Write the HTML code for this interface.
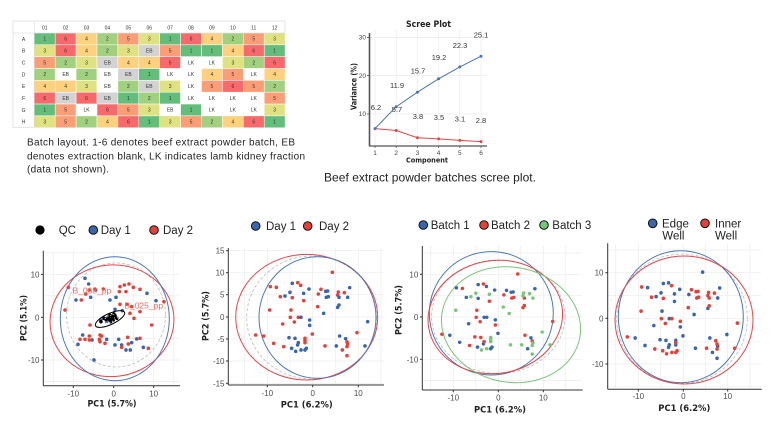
<!DOCTYPE html>
<html><head><meta charset="utf-8"><style>
html,body{margin:0;padding:0;background:#fff;}
svg{display:block;font-family:"Liberation Sans",Arial,sans-serif;}
.ct{font-size:5px;fill:#333;text-anchor:middle;}
.tk{font-size:8px;fill:#4d4d4d;}
.ttl{font-family:"DejaVu Sans","Liberation Sans",sans-serif;font-weight:bold;fill:#222;}
.lg{font-size:11.5px;fill:#222;}
.grid line{stroke:#ececec;stroke-width:0.7;}
.ax{stroke:#333;stroke-width:1;}
</style></head><body>
<svg width="780" height="421" viewBox="0 0 780 421" xmlns="http://www.w3.org/2000/svg">
<defs>
<circle id="p1" cx="412" cy="187" r="5.4"/><circle id="p2" cx="292" cy="220" r="5.4"/><circle id="p3" cx="308" cy="218" r="5.4"/><circle id="p4" cx="317" cy="226" r="5.4"/><circle id="p5" cx="226" cy="230" r="5.4"/><circle id="p6" cx="244" cy="232" r="5.4"/><circle id="p7" cx="464" cy="233" r="5.4"/><circle id="p8" cx="342" cy="237" r="5.4"/><circle id="p9" cx="378" cy="238" r="5.4"/><circle id="p10" cx="392" cy="244" r="5.4"/><circle id="p11" cx="398" cy="243" r="5.4"/><circle id="p12" cx="285" cy="247" r="5.4"/><circle id="p13" cx="326" cy="250" r="5.4"/><circle id="p14" cx="370" cy="252" r="5.4"/><circle id="p15" cx="430" cy="246" r="5.4"/><circle id="p16" cx="428" cy="255" r="5.4"/><circle id="p17" cx="448" cy="248" r="5.4"/><circle id="p18" cx="270" cy="258" r="5.4"/><circle id="p19" cx="256" cy="260" r="5.4"/><circle id="p20" cx="292" cy="263" r="5.4"/><circle id="p21" cx="394" cy="262" r="5.4"/><circle id="p22" cx="400" cy="260" r="5.4"/><circle id="p23" cx="432" cy="262" r="5.4"/><circle id="p24" cx="458" cy="262" r="5.4"/><circle id="p25" cx="326" cy="272" r="5.4"/><circle id="p26" cx="432" cy="285" r="5.4"/><circle id="p27" cx="428" cy="292" r="5.4"/><circle id="p28" cx="368" cy="290" r="5.4"/><circle id="p29" cx="224" cy="300" r="5.4"/><circle id="p30" cx="288" cy="300" r="5.4"/><circle id="p31" cx="386" cy="310" r="5.4"/><circle id="p32" cx="286" cy="322" r="5.4"/><circle id="p33" cx="310" cy="322" r="5.4"/><circle id="p34" cx="318" cy="322" r="5.4"/><circle id="p35" cx="344" cy="330" r="5.4"/><circle id="p36" cx="298" cy="336" r="5.4"/><circle id="p37" cx="263" cy="342" r="5.4"/><circle id="p38" cx="344" cy="346" r="5.4"/><circle id="p39" cx="518" cy="335" r="5.4"/><circle id="p40" cx="352" cy="372" r="5.4"/><circle id="p41" cx="486" cy="368" r="5.4"/><circle id="p42" cx="182" cy="375" r="5.4"/><circle id="p43" cx="206" cy="378" r="5.4"/><circle id="p44" cx="282" cy="383" r="5.4"/><circle id="p45" cx="300" cy="385" r="5.4"/><circle id="p46" cx="330" cy="385" r="5.4"/><circle id="p47" cx="330" cy="392" r="5.4"/><circle id="p48" cx="434" cy="378" r="5.4"/><circle id="p49" cx="452" cy="386" r="5.4"/><circle id="p50" cx="456" cy="396" r="5.4"/><circle id="p51" cx="236" cy="400" r="5.4"/><circle id="p52" cx="310" cy="398" r="5.4"/><circle id="p53" cx="330" cy="398" r="5.4"/><circle id="p54" cx="308" cy="405" r="5.4"/><circle id="p55" cx="458" cy="402" r="5.4"/><circle id="p56" cx="456" cy="410" r="5.4"/><circle id="p57" cx="424" cy="408" r="5.4"/><circle id="p58" cx="390" cy="408" r="5.4"/><circle id="p59" cx="266" cy="410" r="5.4"/><circle id="p60" cx="510" cy="408" r="5.4"/><circle id="p61" cx="290" cy="415" r="5.4"/><circle id="p62" cx="334" cy="415" r="5.4"/><circle id="p63" cx="302" cy="424" r="5.4"/><circle id="p64" cx="318" cy="420" r="5.4"/><circle id="p65" cx="330" cy="420" r="5.4"/><circle id="p66" cx="442" cy="420" r="5.4"/><circle id="p67" cx="456" cy="437" r="5.4"/>
</defs>

<!-- ============ TABLE ============ -->
<g>
<rect x="13" y="21" width="272" height="106.7" fill="#fff" stroke="#d4d4d4" stroke-width="0.6"/>
<g class="ct">
<text x="44.75" y="29.5">01</text><text x="65.65" y="29.5">02</text><text x="86.55" y="29.5">03</text><text x="107.45" y="29.5">04</text><text x="128.35" y="29.5">05</text><text x="149.25" y="29.5">06</text><text x="170.15" y="29.5">07</text><text x="191.05" y="29.5">08</text><text x="211.95" y="29.5">09</text><text x="232.85" y="29.5">10</text><text x="253.75" y="29.5">11</text><text x="274.65" y="29.5">12</text>
<text x="23.6" y="40.8">A</text><text x="23.6" y="52.6">B</text><text x="23.6" y="64.5">C</text><text x="23.6" y="76.3">D</text><text x="23.6" y="88.2">E</text><text x="23.6" y="100">F</text><text x="23.6" y="111.8">G</text><text x="23.6" y="123.7">H</text>
</g>
<g stroke="#fff" stroke-width="0.5">
<!-- A: 1 6 4 2 5 3 1 6 4 2 5 3 -->
<rect x="34.3" y="33" width="20.9" height="11.84" fill="#63be7b"/><rect x="55.2" y="33" width="20.9" height="11.84" fill="#f8696b"/><rect x="76.1" y="33" width="20.9" height="11.84" fill="#fed17f"/><rect x="97" y="33" width="20.9" height="11.84" fill="#a1d07f"/><rect x="117.9" y="33" width="20.9" height="11.84" fill="#fb9d75"/><rect x="138.8" y="33" width="20.9" height="11.84" fill="#e0e282"/><rect x="159.7" y="33" width="20.9" height="11.84" fill="#63be7b"/><rect x="180.6" y="33" width="20.9" height="11.84" fill="#f8696b"/><rect x="201.5" y="33" width="20.9" height="11.84" fill="#fed17f"/><rect x="222.4" y="33" width="20.9" height="11.84" fill="#a1d07f"/><rect x="243.3" y="33" width="20.9" height="11.84" fill="#fb9d75"/><rect x="264.2" y="33" width="20.9" height="11.84" fill="#e0e282"/>
<!-- B: 3 6 4 2 3 EB 5 1 1 4 6 1 -->
<rect x="34.3" y="44.84" width="20.9" height="11.84" fill="#e0e282"/><rect x="55.2" y="44.84" width="20.9" height="11.84" fill="#f8696b"/><rect x="76.1" y="44.84" width="20.9" height="11.84" fill="#fed17f"/><rect x="97" y="44.84" width="20.9" height="11.84" fill="#a1d07f"/><rect x="117.9" y="44.84" width="20.9" height="11.84" fill="#e0e282"/><rect x="138.8" y="44.84" width="20.9" height="11.84" fill="#d3d3d3"/><rect x="159.7" y="44.84" width="20.9" height="11.84" fill="#fb9d75"/><rect x="180.6" y="44.84" width="20.9" height="11.84" fill="#63be7b"/><rect x="201.5" y="44.84" width="20.9" height="11.84" fill="#63be7b"/><rect x="222.4" y="44.84" width="20.9" height="11.84" fill="#fed17f"/><rect x="243.3" y="44.84" width="20.9" height="11.84" fill="#f8696b"/><rect x="264.2" y="44.84" width="20.9" height="11.84" fill="#63be7b"/>
<!-- C: 5 2 3 EB 4 4 6 LK LK 3 2 6 -->
<rect x="34.3" y="56.68" width="20.9" height="11.84" fill="#fb9d75"/><rect x="55.2" y="56.68" width="20.9" height="11.84" fill="#a1d07f"/><rect x="76.1" y="56.68" width="20.9" height="11.84" fill="#e0e282"/><rect x="97" y="56.68" width="20.9" height="11.84" fill="#d3d3d3"/><rect x="117.9" y="56.68" width="20.9" height="11.84" fill="#fed17f"/><rect x="138.8" y="56.68" width="20.9" height="11.84" fill="#fed17f"/><rect x="159.7" y="56.68" width="20.9" height="11.84" fill="#f8696b"/><rect x="180.6" y="56.68" width="20.9" height="11.84" fill="#fff"/><rect x="201.5" y="56.68" width="20.9" height="11.84" fill="#fff"/><rect x="222.4" y="56.68" width="20.9" height="11.84" fill="#e0e282"/><rect x="243.3" y="56.68" width="20.9" height="11.84" fill="#a1d07f"/><rect x="264.2" y="56.68" width="20.9" height="11.84" fill="#f8696b"/>
<!-- D: 2 EB 2 EB EB 1 LK LK 4 5 LK 4 -->
<rect x="34.3" y="68.52" width="20.9" height="11.84" fill="#a1d07f"/><rect x="55.2" y="68.52" width="20.9" height="11.84" fill="#fff"/><rect x="76.1" y="68.52" width="20.9" height="11.84" fill="#a1d07f"/><rect x="97" y="68.52" width="20.9" height="11.84" fill="#fff"/><rect x="117.9" y="68.52" width="20.9" height="11.84" fill="#d3d3d3"/><rect x="138.8" y="68.52" width="20.9" height="11.84" fill="#63be7b"/><rect x="159.7" y="68.52" width="20.9" height="11.84" fill="#fff"/><rect x="180.6" y="68.52" width="20.9" height="11.84" fill="#fff"/><rect x="201.5" y="68.52" width="20.9" height="11.84" fill="#fed17f"/><rect x="222.4" y="68.52" width="20.9" height="11.84" fill="#fb9d75"/><rect x="243.3" y="68.52" width="20.9" height="11.84" fill="#fff"/><rect x="264.2" y="68.52" width="20.9" height="11.84" fill="#fed17f"/>
<!-- E: 4 4 3 EB 2 EB 3 LK 5 6 5 2 -->
<rect x="34.3" y="80.36" width="20.9" height="11.84" fill="#fed17f"/><rect x="55.2" y="80.36" width="20.9" height="11.84" fill="#fed17f"/><rect x="76.1" y="80.36" width="20.9" height="11.84" fill="#e0e282"/><rect x="97" y="80.36" width="20.9" height="11.84" fill="#fff"/><rect x="117.9" y="80.36" width="20.9" height="11.84" fill="#a1d07f"/><rect x="138.8" y="80.36" width="20.9" height="11.84" fill="#d3d3d3"/><rect x="159.7" y="80.36" width="20.9" height="11.84" fill="#e0e282"/><rect x="180.6" y="80.36" width="20.9" height="11.84" fill="#fff"/><rect x="201.5" y="80.36" width="20.9" height="11.84" fill="#fb9d75"/><rect x="222.4" y="80.36" width="20.9" height="11.84" fill="#f8696b"/><rect x="243.3" y="80.36" width="20.9" height="11.84" fill="#fb9d75"/><rect x="264.2" y="80.36" width="20.9" height="11.84" fill="#a1d07f"/>
<!-- F: 6 EB 6 EB 1 2 1 LK LK LK LK 5 -->
<rect x="34.3" y="92.2" width="20.9" height="11.84" fill="#f8696b"/><rect x="55.2" y="92.2" width="20.9" height="11.84" fill="#d3d3d3"/><rect x="76.1" y="92.2" width="20.9" height="11.84" fill="#f8696b"/><rect x="97" y="92.2" width="20.9" height="11.84" fill="#d3d3d3"/><rect x="117.9" y="92.2" width="20.9" height="11.84" fill="#63be7b"/><rect x="138.8" y="92.2" width="20.9" height="11.84" fill="#a1d07f"/><rect x="159.7" y="92.2" width="20.9" height="11.84" fill="#63be7b"/><rect x="180.6" y="92.2" width="20.9" height="11.84" fill="#fff"/><rect x="201.5" y="92.2" width="20.9" height="11.84" fill="#fff"/><rect x="222.4" y="92.2" width="20.9" height="11.84" fill="#fff"/><rect x="243.3" y="92.2" width="20.9" height="11.84" fill="#fff"/><rect x="264.2" y="92.2" width="20.9" height="11.84" fill="#fb9d75"/>
<!-- G: 1 5 LK 6 5 3 EB 1 LK LK LK 3 -->
<rect x="34.3" y="104.04" width="20.9" height="11.84" fill="#63be7b"/><rect x="55.2" y="104.04" width="20.9" height="11.84" fill="#fb9d75"/><rect x="76.1" y="104.04" width="20.9" height="11.84" fill="#fff"/><rect x="97" y="104.04" width="20.9" height="11.84" fill="#f8696b"/><rect x="117.9" y="104.04" width="20.9" height="11.84" fill="#fb9d75"/><rect x="138.8" y="104.04" width="20.9" height="11.84" fill="#e0e282"/><rect x="159.7" y="104.04" width="20.9" height="11.84" fill="#fff"/><rect x="180.6" y="104.04" width="20.9" height="11.84" fill="#63be7b"/><rect x="201.5" y="104.04" width="20.9" height="11.84" fill="#fff"/><rect x="222.4" y="104.04" width="20.9" height="11.84" fill="#fff"/><rect x="243.3" y="104.04" width="20.9" height="11.84" fill="#fff"/><rect x="264.2" y="104.04" width="20.9" height="11.84" fill="#e0e282"/>
<!-- H: 3 5 2 4 6 1 3 5 2 4 6 1 -->
<rect x="34.3" y="115.88" width="20.9" height="11.84" fill="#e0e282"/><rect x="55.2" y="115.88" width="20.9" height="11.84" fill="#fb9d75"/><rect x="76.1" y="115.88" width="20.9" height="11.84" fill="#a1d07f"/><rect x="97" y="115.88" width="20.9" height="11.84" fill="#fed17f"/><rect x="117.9" y="115.88" width="20.9" height="11.84" fill="#f8696b"/><rect x="138.8" y="115.88" width="20.9" height="11.84" fill="#63be7b"/><rect x="159.7" y="115.88" width="20.9" height="11.84" fill="#e0e282"/><rect x="180.6" y="115.88" width="20.9" height="11.84" fill="#fb9d75"/><rect x="201.5" y="115.88" width="20.9" height="11.84" fill="#a1d07f"/><rect x="222.4" y="115.88" width="20.9" height="11.84" fill="#fed17f"/><rect x="243.3" y="115.88" width="20.9" height="11.84" fill="#f8696b"/><rect x="264.2" y="115.88" width="20.9" height="11.84" fill="#63be7b"/>
</g>
<g stroke="#d0d0d0" stroke-width="0.5">
<line x1="13" y1="33" x2="285" y2="33"/><line x1="34.3" y1="21" x2="34.3" y2="127.7"/>
</g>
<g class="ct">
<text x="44.75" y="40.6">1</text><text x="65.65" y="40.6">6</text><text x="86.55" y="40.6">4</text><text x="107.45" y="40.6">2</text><text x="128.35" y="40.6">5</text><text x="149.25" y="40.6">3</text><text x="170.15" y="40.6">1</text><text x="191.05" y="40.6">6</text><text x="211.95" y="40.6">4</text><text x="232.85" y="40.6">2</text><text x="253.75" y="40.6">5</text><text x="274.65" y="40.6">3</text>
<text x="44.75" y="52.4">3</text><text x="65.65" y="52.4">6</text><text x="86.55" y="52.4">4</text><text x="107.45" y="52.4">2</text><text x="128.35" y="52.4">3</text><text x="149.25" y="52.4">EB</text><text x="170.15" y="52.4">5</text><text x="191.05" y="52.4">1</text><text x="211.95" y="52.4">1</text><text x="232.85" y="52.4">4</text><text x="253.75" y="52.4">6</text><text x="274.65" y="52.4">1</text>
<text x="44.75" y="64.3">5</text><text x="65.65" y="64.3">2</text><text x="86.55" y="64.3">3</text><text x="107.45" y="64.3">EB</text><text x="128.35" y="64.3">4</text><text x="149.25" y="64.3">4</text><text x="170.15" y="64.3">6</text><text x="191.05" y="64.3">LK</text><text x="211.95" y="64.3">LK</text><text x="232.85" y="64.3">3</text><text x="253.75" y="64.3">2</text><text x="274.65" y="64.3">6</text>
<text x="44.75" y="76.1">2</text><text x="65.65" y="76.1">EB</text><text x="86.55" y="76.1">2</text><text x="107.45" y="76.1">EB</text><text x="128.35" y="76.1">EB</text><text x="149.25" y="76.1">1</text><text x="170.15" y="76.1">LK</text><text x="191.05" y="76.1">LK</text><text x="211.95" y="76.1">4</text><text x="232.85" y="76.1">5</text><text x="253.75" y="76.1">LK</text><text x="274.65" y="76.1">4</text>
<text x="44.75" y="88">4</text><text x="65.65" y="88">4</text><text x="86.55" y="88">3</text><text x="107.45" y="88">EB</text><text x="128.35" y="88">2</text><text x="149.25" y="88">EB</text><text x="170.15" y="88">3</text><text x="191.05" y="88">LK</text><text x="211.95" y="88">5</text><text x="232.85" y="88">6</text><text x="253.75" y="88">5</text><text x="274.65" y="88">2</text>
<text x="44.75" y="99.8">6</text><text x="65.65" y="99.8">EB</text><text x="86.55" y="99.8">6</text><text x="107.45" y="99.8">EB</text><text x="128.35" y="99.8">1</text><text x="149.25" y="99.8">2</text><text x="170.15" y="99.8">1</text><text x="191.05" y="99.8">LK</text><text x="211.95" y="99.8">LK</text><text x="232.85" y="99.8">LK</text><text x="253.75" y="99.8">LK</text><text x="274.65" y="99.8">5</text>
<text x="44.75" y="111.6">1</text><text x="65.65" y="111.6">5</text><text x="86.55" y="111.6">LK</text><text x="107.45" y="111.6">6</text><text x="128.35" y="111.6">5</text><text x="149.25" y="111.6">3</text><text x="170.15" y="111.6">EB</text><text x="191.05" y="111.6">1</text><text x="211.95" y="111.6">LK</text><text x="232.85" y="111.6">LK</text><text x="253.75" y="111.6">LK</text><text x="274.65" y="111.6">3</text>
<text x="44.75" y="123.5">3</text><text x="65.65" y="123.5">5</text><text x="86.55" y="123.5">2</text><text x="107.45" y="123.5">4</text><text x="128.35" y="123.5">6</text><text x="149.25" y="123.5">1</text><text x="170.15" y="123.5">3</text><text x="191.05" y="123.5">5</text><text x="211.95" y="123.5">2</text><text x="232.85" y="123.5">4</text><text x="253.75" y="123.5">6</text><text x="274.65" y="123.5">1</text>
</g>
</g>

<!-- caption 1 -->
<g font-size="10" fill="#222">
<text x="27" y="145.7" textLength="268" lengthAdjust="spacing">Batch layout. 1-6 denotes beef extract powder batch, EB</text>
<text x="27" y="159.7" textLength="278" lengthAdjust="spacing">denotes extraction blank, LK indicates lamb kidney fraction</text>
<text x="27" y="172.5" textLength="82" lengthAdjust="spacing">(data not shown).</text>
</g>

<!-- ============ SCREE ============ -->
<g>
<g class="grid">
<line x1="375" y1="30" x2="375" y2="146"/><line x1="396.2" y1="30" x2="396.2" y2="146"/><line x1="417.4" y1="30" x2="417.4" y2="146"/><line x1="438.6" y1="30" x2="438.6" y2="146"/><line x1="459.8" y1="30" x2="459.8" y2="146"/><line x1="481" y1="30" x2="481" y2="146"/>
<line x1="369" y1="37.4" x2="487" y2="37.4"/><line x1="369" y1="75.6" x2="487" y2="75.6"/><line x1="369" y1="113.9" x2="487" y2="113.9"/>
</g>
<line x1="369.5" y1="33" x2="369.5" y2="146" stroke="#555" stroke-width="1.6"/>
<line x1="369" y1="146" x2="487" y2="146" stroke="#555" stroke-width="1.2"/>
<g stroke="#555" stroke-width="0.8">
<line x1="367" y1="37.4" x2="369" y2="37.4"/><line x1="367" y1="75.6" x2="369" y2="75.6"/><line x1="367" y1="113.9" x2="369" y2="113.9"/>
<line x1="375" y1="146" x2="375" y2="148"/><line x1="396.2" y1="146" x2="396.2" y2="148"/><line x1="417.4" y1="146" x2="417.4" y2="148"/><line x1="438.6" y1="146" x2="438.6" y2="148"/><line x1="459.8" y1="146" x2="459.8" y2="148"/><line x1="481" y1="146" x2="481" y2="148"/>
</g>
<g font-size="6.5" fill="#444" text-anchor="end">
<text x="366" y="39.6">30</text><text x="366" y="77.8">20</text><text x="366" y="116.1">10</text>
</g>
<g font-size="6.5" fill="#444" text-anchor="middle">
<text x="375" y="155">1</text><text x="396.2" y="155">2</text><text x="417.4" y="155">3</text><text x="438.6" y="155">4</text><text x="459.8" y="155">5</text><text x="481" y="155">6</text>
</g>
<polyline points="375,128.6 396.2,106.7 417.4,92.2 438.6,78.8 459.8,66.9 481,56.2" fill="none" stroke="#4c72b0" stroke-width="1"/>
<polyline points="375,128.6 396.2,130.5 417.4,137.7 438.6,138.9 459.8,140.4 481,141.6" fill="none" stroke="#e04848" stroke-width="1"/>
<g fill="#4c72b0"><circle cx="375" cy="128.6" r="1.5"/><circle cx="396.2" cy="106.7" r="1.5"/><circle cx="417.4" cy="92.2" r="1.5"/><circle cx="438.6" cy="78.8" r="1.5"/><circle cx="459.8" cy="66.9" r="1.5"/><circle cx="481" cy="56.2" r="1.5"/></g>
<g fill="#e04848"><circle cx="396.2" cy="130.5" r="1.5"/><circle cx="417.4" cy="137.7" r="1.5"/><circle cx="438.6" cy="138.9" r="1.5"/><circle cx="459.8" cy="140.4" r="1.5"/><circle cx="481" cy="141.6" r="1.5"/></g>
<g font-size="7.5" fill="#333" text-anchor="middle">
<text x="376" y="109.8">6.2</text><text x="397" y="88">11.9</text><text x="418" y="73.5">15.7</text><text x="439" y="60">19.2</text><text x="460" y="48.2">22.3</text><text x="481" y="37.5">25.1</text>
<text x="397" y="111.8">5.7</text><text x="418" y="119">3.8</text><text x="439" y="120.2">3.5</text><text x="460" y="121.7">3.1</text><text x="481" y="122.9">2.8</text>
</g>
<text class="ttl" x="428.5" y="27" font-size="9" text-anchor="middle" textLength="45" lengthAdjust="spacingAndGlyphs">Scree Plot</text>
<text class="ttl" x="427" y="162.5" font-size="7" text-anchor="middle" textLength="42" lengthAdjust="spacingAndGlyphs">Component</text>
<text class="ttl" font-size="7.5" text-anchor="middle" transform="translate(356.5,86.5) rotate(-90)" textLength="47" lengthAdjust="spacingAndGlyphs">Variance (%)</text>
</g>
<text x="324" y="181.7" font-size="12" fill="#222" textLength="212" lengthAdjust="spacing">Beef extract powder batches scree plot.</text>

<!-- ============ PANEL 1 ============ -->
<g>
<g class="grid">
<line x1="53.2" y1="251" x2="53.2" y2="385"/><line x1="73.3" y1="251" x2="73.3" y2="385"/><line x1="93.5" y1="251" x2="93.5" y2="385"/><line x1="113.7" y1="251" x2="113.7" y2="385"/><line x1="133.7" y1="251" x2="133.7" y2="385"/><line x1="153.7" y1="251" x2="153.7" y2="385"/><line x1="173.8" y1="251" x2="173.8" y2="385"/>
<line x1="44" y1="252.8" x2="180" y2="252.8"/><line x1="44" y1="274.3" x2="180" y2="274.3"/><line x1="44" y1="295.8" x2="180" y2="295.8"/><line x1="44" y1="317.3" x2="180" y2="317.3"/><line x1="44" y1="338.7" x2="180" y2="338.7"/><line x1="44" y1="360" x2="180" y2="360"/><line x1="44" y1="381.5" x2="180" y2="381.5"/>
</g>
<line class="ax" x1="43.3" y1="250.7" x2="43.3" y2="385.7"/><line class="ax" x1="43.3" y1="385.7" x2="180" y2="385.7"/>
<g class="ax"><line x1="41" y1="274.3" x2="43.3" y2="274.3"/><line x1="41" y1="317.3" x2="43.3" y2="317.3"/><line x1="41" y1="360" x2="43.3" y2="360"/><line x1="73.3" y1="385.7" x2="73.3" y2="388"/><line x1="113.7" y1="385.7" x2="113.7" y2="388"/><line x1="153.7" y1="385.7" x2="153.7" y2="388"/></g>
<g class="tk" text-anchor="end"><text x="39.5" y="277.3">10</text><text x="39.5" y="320.3">0</text><text x="39.5" y="363">-10</text></g>
<g class="tk" text-anchor="middle"><text x="73.3" y="396.5">-10</text><text x="113.7" y="396.5">0</text><text x="153.7" y="396.5">10</text></g>
<text class="ttl" x="112" y="406.5" font-size="9" text-anchor="middle" textLength="49" lengthAdjust="spacingAndGlyphs">PC1 (5.7%)</text>
<text class="ttl" font-size="9" text-anchor="middle" transform="translate(26.5,318) rotate(-90)" textLength="46" lengthAdjust="spacingAndGlyphs">PC2 (5.1%)</text>
<ellipse cx="116" cy="315" rx="49.5" ry="52" fill="none" stroke="#bbb" stroke-width="0.8" stroke-dasharray="3,2"/>
<ellipse cx="112" cy="320.8" rx="62" ry="55.8" fill="none" stroke="#e0474c" stroke-width="1" transform="rotate(-6 112 320.8)"/>
<ellipse cx="114.8" cy="318.7" rx="54.5" ry="62" fill="none" stroke="#4a78b5" stroke-width="1"/>
<g transform="translate(0,210) scale(0.3333)">
<g fill="#3a66ad">
<circle cx="255" cy="205" r="5.4"/><circle cx="266" cy="222" r="5.4"/><circle cx="228" cy="270" r="5.4"/><circle cx="272" cy="262" r="5.4"/><circle cx="287" cy="240" r="5.4"/><circle cx="248" cy="375" r="5.4"/><circle cx="234" cy="403" r="5.4"/><circle cx="276" cy="390" r="5.4"/><circle cx="282" cy="450" r="5.4"/><circle cx="320" cy="388" r="5.4"/><circle cx="345" cy="405" r="5.4"/><circle cx="356" cy="388" r="5.4"/><circle cx="365" cy="405" r="5.4"/><circle cx="378" cy="420" r="5.4"/><circle cx="391" cy="420" r="5.4"/><circle cx="395" cy="398" r="5.4"/><circle cx="410" cy="387" r="5.4"/><circle cx="430" cy="412" r="5.4"/><circle cx="468" cy="272" r="5.4"/><circle cx="441" cy="250" r="5.4"/><circle cx="348" cy="262" r="5.4"/><circle cx="330" cy="270" r="5.4"/><circle cx="367" cy="302" r="5.4"/><circle cx="302" cy="330" r="5.4"/><circle cx="320" cy="335" r="5.4"/><circle cx="345" cy="298" r="5.4"/>
</g>
<g fill="#e3413a">
<circle cx="205" cy="232" r="5.4"/><circle cx="195" cy="300" r="5.4"/><circle cx="244" cy="270" r="5.4"/><circle cx="257" cy="252" r="5.4"/><circle cx="268" cy="240" r="5.4"/><circle cx="285" cy="237" r="5.4"/><circle cx="310" cy="237" r="5.4"/><circle cx="360" cy="230" r="5.4"/><circle cx="373" cy="225" r="5.4"/><circle cx="387" cy="222" r="5.4"/><circle cx="400" cy="232" r="5.4"/><circle cx="420" cy="238" r="5.4"/><circle cx="358" cy="245" r="5.4"/><circle cx="378" cy="245" r="5.4"/><circle cx="360" cy="283" r="5.4"/><circle cx="382" cy="283" r="5.4"/><circle cx="395" cy="290" r="5.4"/><circle cx="390" cy="310" r="5.4"/><circle cx="402" cy="325" r="5.4"/><circle cx="420" cy="305" r="5.4"/><circle cx="492" cy="275" r="5.4"/><circle cx="455" cy="345" r="5.4"/><circle cx="270" cy="345" r="5.4"/><circle cx="255" cy="388" r="5.4"/><circle cx="268" cy="378" r="5.4"/><circle cx="268" cy="390" r="5.4"/><circle cx="300" cy="375" r="5.4"/><circle cx="305" cy="378" r="5.4"/><circle cx="300" cy="395" r="5.4"/><circle cx="315" cy="400" r="5.4"/><circle cx="365" cy="412" r="5.4"/><circle cx="445" cy="415" r="5.4"/><circle cx="420" cy="385" r="5.4"/><circle cx="383" cy="382" r="5.4"/><circle cx="240" cy="388" r="5.4"/><circle cx="298" cy="388" r="5.4"/><circle cx="385" cy="402" r="5.4"/>
</g>
<g fill="#000">
<circle cx="303" cy="335" r="5.4"/><circle cx="318" cy="328" r="5.4"/><circle cx="325" cy="322" r="5.4"/><circle cx="330" cy="316" r="5.4"/><circle cx="336" cy="320" r="5.4"/><circle cx="340" cy="330" r="5.4"/><circle cx="345" cy="317" r="5.4"/><circle cx="332" cy="335" r="5.4"/><circle cx="350" cy="325" r="5.4"/><circle cx="312" cy="325" r="5.4"/><circle cx="338" cy="326" r="5.4"/><circle cx="328" cy="328" r="5.4"/><circle cx="342" cy="312" r="5.4"/>
</g>
</g>
<ellipse cx="110" cy="319" rx="16" ry="5.5" fill="none" stroke="#000" stroke-width="1" transform="rotate(-25 110 319)"/>
<ellipse cx="111" cy="318.5" rx="9" ry="3" fill="none" stroke="#fff" stroke-width="0.6" stroke-dasharray="1.5,1.5" transform="rotate(-25 111 318.5)"/>
<g font-size="8.5" fill="#ec6a5e"><text x="72.5" y="293.5">B_068_pp</text><text x="124.3" y="308.5">B_025_pp</text></g>
<!-- legend -->
<circle cx="40" cy="230" r="4.6" fill="#000"/><text class="lg" x="58.7" y="234.2">QC</text>
<circle cx="93.3" cy="230" r="4.3" fill="#3a66ad" stroke="#111" stroke-width="1"/><text class="lg" x="100.7" y="234.2">Day 1</text>
<circle cx="154" cy="230" r="4.3" fill="#e3413a" stroke="#111" stroke-width="1"/><text class="lg" x="163" y="234.2">Day 2</text>
</g>

<!-- ============ PANEL 2 ============ -->
<g>
<g class="grid">
<line x1="244.5" y1="248" x2="244.5" y2="384"/><line x1="267.3" y1="248" x2="267.3" y2="384"/><line x1="290" y1="248" x2="290" y2="384"/><line x1="312.7" y1="248" x2="312.7" y2="384"/><line x1="335.5" y1="248" x2="335.5" y2="384"/><line x1="358.3" y1="248" x2="358.3" y2="384"/><line x1="381" y1="248" x2="381" y2="384"/>
<line x1="229" y1="250.7" x2="384" y2="250.7"/><line x1="229" y1="272.7" x2="384" y2="272.7"/><line x1="229" y1="294.7" x2="384" y2="294.7"/><line x1="229" y1="317" x2="384" y2="317"/><line x1="229" y1="339" x2="384" y2="339"/><line x1="229" y1="361" x2="384" y2="361"/><line x1="229" y1="383.3" x2="384" y2="383.3"/>
</g>
<line class="ax" x1="228.3" y1="248" x2="228.3" y2="385"/><line class="ax" x1="228.3" y1="385" x2="384" y2="385"/>
<g class="ax"><line x1="226" y1="250.7" x2="228.3" y2="250.7"/><line x1="226" y1="272.7" x2="228.3" y2="272.7"/><line x1="226" y1="294.7" x2="228.3" y2="294.7"/><line x1="226" y1="317" x2="228.3" y2="317"/><line x1="226" y1="339" x2="228.3" y2="339"/><line x1="226" y1="361" x2="228.3" y2="361"/><line x1="226" y1="383.3" x2="228.3" y2="383.3"/><line x1="267.3" y1="385" x2="267.3" y2="387.3"/><line x1="312.7" y1="385" x2="312.7" y2="387.3"/><line x1="358.3" y1="385" x2="358.3" y2="387.3"/></g>
<g class="tk" text-anchor="end"><text x="224.5" y="253.7">15</text><text x="224.5" y="275.7">10</text><text x="224.5" y="297.7">5</text><text x="224.5" y="320">0</text><text x="224.5" y="342">-5</text><text x="224.5" y="364">-10</text><text x="224.5" y="386.3">-15</text></g>
<g class="tk" text-anchor="middle"><text x="267.3" y="396">-10</text><text x="312.7" y="396">0</text><text x="358.3" y="396">10</text></g>
<text class="ttl" x="306.7" y="407.5" font-size="9" text-anchor="middle" textLength="52" lengthAdjust="spacingAndGlyphs">PC1 (6.2%)</text>
<text class="ttl" font-size="9" text-anchor="middle" transform="translate(208.5,316) rotate(-90)" textLength="50" lengthAdjust="spacingAndGlyphs">PC2 (5.7%)</text>
<ellipse cx="311.7" cy="317.5" rx="65" ry="61.5" fill="none" stroke="#bbb" stroke-width="0.8" stroke-dasharray="3,2"/>
<ellipse cx="306.7" cy="317.2" rx="71" ry="62.8" fill="none" stroke="#e0474c" stroke-width="1"/>
<ellipse cx="317.5" cy="317.5" rx="58.5" ry="60.8" fill="none" stroke="#4a78b5" stroke-width="1"/>
<g transform="translate(195,210) scale(0.3333)">
<g fill="#e3413a"><use href="#p1"/><use href="#p3"/><use href="#p4"/><use href="#p5"/><use href="#p6"/><use href="#p9"/><use href="#p14"/><use href="#p15"/><use href="#p16"/><use href="#p17"/><use href="#p19"/><use href="#p20"/><use href="#p25"/><use href="#p28"/><use href="#p29"/><use href="#p30"/><use href="#p32"/><use href="#p33"/><use href="#p36"/><use href="#p37"/><use href="#p40"/><use href="#p41"/><use href="#p42"/><use href="#p43"/><use href="#p46"/><use href="#p47"/><use href="#p50"/><use href="#p51"/><use href="#p53"/><use href="#p55"/><use href="#p56"/><use href="#p58"/><use href="#p59"/><use href="#p66"/><use href="#p67"/></g>
<g fill="#3a66ad"><use href="#p2"/><use href="#p7"/><use href="#p8"/><use href="#p10"/><use href="#p11"/><use href="#p12"/><use href="#p13"/><use href="#p18"/><use href="#p21"/><use href="#p22"/><use href="#p23"/><use href="#p24"/><use href="#p26"/><use href="#p27"/><use href="#p31"/><use href="#p34"/><use href="#p35"/><use href="#p38"/><use href="#p39"/><use href="#p44"/><use href="#p45"/><use href="#p48"/><use href="#p49"/><use href="#p52"/><use href="#p54"/><use href="#p57"/><use href="#p60"/><use href="#p61"/><use href="#p62"/><use href="#p63"/><use href="#p64"/><use href="#p65"/></g>
</g>
<circle cx="255.7" cy="226" r="4.3" fill="#3a66ad" stroke="#111" stroke-width="1"/><text class="lg" x="266" y="230.2">Day 1</text>
<circle cx="307.7" cy="226" r="4.3" fill="#e3413a" stroke="#111" stroke-width="1"/><text class="lg" x="319" y="230.2">Day 2</text>
</g>

<!-- ============ PANEL 3 ============ -->
<g>
<g class="grid">
<line x1="430.8" y1="246" x2="430.8" y2="389"/><line x1="453.3" y1="246" x2="453.3" y2="389"/><line x1="475.8" y1="246" x2="475.8" y2="389"/><line x1="498.3" y1="246" x2="498.3" y2="389"/><line x1="520.8" y1="246" x2="520.8" y2="389"/><line x1="543.3" y1="246" x2="543.3" y2="389"/><line x1="565.8" y1="246" x2="565.8" y2="389"/>
<line x1="423" y1="253" x2="582" y2="253"/><line x1="423" y1="274.3" x2="582" y2="274.3"/><line x1="423" y1="295.7" x2="582" y2="295.7"/><line x1="423" y1="317" x2="582" y2="317"/><line x1="423" y1="338.2" x2="582" y2="338.2"/><line x1="423" y1="359.3" x2="582" y2="359.3"/><line x1="423" y1="380.6" x2="582" y2="380.6"/>
</g>
<line class="ax" x1="422.3" y1="246" x2="422.3" y2="390"/><line class="ax" x1="422.3" y1="390" x2="582.7" y2="390"/>
<g class="ax"><line x1="420" y1="274.3" x2="422.3" y2="274.3"/><line x1="420" y1="317" x2="422.3" y2="317"/><line x1="420" y1="359.3" x2="422.3" y2="359.3"/><line x1="453.3" y1="390" x2="453.3" y2="392.3"/><line x1="498.3" y1="390" x2="498.3" y2="392.3"/><line x1="543.3" y1="390" x2="543.3" y2="392.3"/></g>
<g class="tk" text-anchor="end"><text x="418.3" y="277.3">10</text><text x="418.3" y="320">0</text><text x="418.3" y="362.3">-10</text></g>
<g class="tk" text-anchor="middle"><text x="453.3" y="400.5">-10</text><text x="498.3" y="400.5">0</text><text x="543.3" y="400.5">10</text></g>
<text class="ttl" x="500" y="412.5" font-size="9" text-anchor="middle" textLength="52" lengthAdjust="spacingAndGlyphs">PC1 (6.2%)</text>
<text class="ttl" font-size="9" text-anchor="middle" transform="translate(401.5,310) rotate(-90)" textLength="50" lengthAdjust="spacingAndGlyphs">PC2 (5.7%)</text>
<ellipse cx="498.3" cy="316.7" rx="66.7" ry="56.7" fill="none" stroke="#bbb" stroke-width="0.8" stroke-dasharray="3,2"/>
<ellipse cx="491.3" cy="313.3" rx="62" ry="61.7" fill="none" stroke="#4a78b5" stroke-width="1"/>
<ellipse cx="495.3" cy="317" rx="67.5" ry="56.5" fill="none" stroke="#e0474c" stroke-width="1" transform="rotate(-9 495.3 317)"/>
<ellipse cx="511" cy="324.7" rx="70" ry="57.5" fill="none" stroke="#7cc47a" stroke-width="1" transform="rotate(11 511 324.7)"/>
<g transform="translate(381.9,214.1) scale(0.3297,0.3205)">
<g fill="#3a66ad"><use href="#p2"/><use href="#p4"/><use href="#p5"/><use href="#p7"/><use href="#p8"/><use href="#p9"/><use href="#p10"/><use href="#p11"/><use href="#p19"/><use href="#p20"/><use href="#p33"/><use href="#p34"/><use href="#p35"/><use href="#p37"/><use href="#p40"/><use href="#p43"/><use href="#p49"/><use href="#p51"/><use href="#p54"/><use href="#p61"/><use href="#p62"/><use href="#p65"/><use href="#p66"/></g>
<g fill="#e3413a"><use href="#p1"/><use href="#p3"/><use href="#p6"/><use href="#p14"/><use href="#p21"/><use href="#p22"/><use href="#p23"/><use href="#p25"/><use href="#p26"/><use href="#p27"/><use href="#p30"/><use href="#p32"/><use href="#p36"/><use href="#p38"/><use href="#p39"/><use href="#p42"/><use href="#p44"/><use href="#p45"/><use href="#p48"/><use href="#p50"/><use href="#p52"/><use href="#p59"/></g>
<g fill="#78c679"><use href="#p12"/><use href="#p13"/><use href="#p15"/><use href="#p16"/><use href="#p17"/><use href="#p18"/><use href="#p24"/><use href="#p28"/><use href="#p29"/><use href="#p31"/><use href="#p41"/><use href="#p46"/><use href="#p47"/><use href="#p53"/><use href="#p55"/><use href="#p56"/><use href="#p57"/><use href="#p58"/><use href="#p60"/><use href="#p63"/><use href="#p64"/><use href="#p67"/></g>
</g>
<circle cx="423.3" cy="225" r="4.3" fill="#3a66ad" stroke="#111" stroke-width="1"/><text class="lg" x="430.7" y="229.2">Batch 1</text>
<circle cx="484" cy="225" r="4.3" fill="#e3413a" stroke="#111" stroke-width="1"/><text class="lg" x="491" y="229.2">Batch 2</text>
<circle cx="544" cy="225" r="4.3" fill="#78c679" stroke="#111" stroke-width="1"/><text class="lg" x="552.3" y="229.2">Batch 3</text>
</g>

<!-- ============ PANEL 4 ============ -->
<g>
<g class="grid">
<line x1="615.8" y1="244" x2="615.8" y2="388"/><line x1="638.3" y1="244" x2="638.3" y2="388"/><line x1="660.8" y1="244" x2="660.8" y2="388"/><line x1="683.3" y1="244" x2="683.3" y2="388"/><line x1="705.5" y1="244" x2="705.5" y2="388"/><line x1="727.7" y1="244" x2="727.7" y2="388"/><line x1="750" y1="244" x2="750" y2="388"/>
<line x1="608" y1="250" x2="761" y2="250"/><line x1="608" y1="272.7" x2="761" y2="272.7"/><line x1="608" y1="295.5" x2="761" y2="295.5"/><line x1="608" y1="318.3" x2="761" y2="318.3"/><line x1="608" y1="341.2" x2="761" y2="341.2"/><line x1="608" y1="364" x2="761" y2="364"/><line x1="608" y1="386.8" x2="761" y2="386.8"/>
</g>
<line class="ax" x1="607.7" y1="243.3" x2="607.7" y2="389.3"/><line class="ax" x1="607.7" y1="389.3" x2="761.7" y2="389.3"/>
<g class="ax"><line x1="605.4" y1="272.7" x2="607.7" y2="272.7"/><line x1="605.4" y1="318.3" x2="607.7" y2="318.3"/><line x1="605.4" y1="364" x2="607.7" y2="364"/><line x1="638.3" y1="389.3" x2="638.3" y2="391.6"/><line x1="683.3" y1="389.3" x2="683.3" y2="391.6"/><line x1="727.7" y1="389.3" x2="727.7" y2="391.6"/></g>
<g class="tk" text-anchor="end"><text x="603.5" y="275.7">10</text><text x="603.5" y="321.3">0</text><text x="603.5" y="367">-10</text></g>
<g class="tk" text-anchor="middle"><text x="638.3" y="399">-10</text><text x="683.3" y="399">0</text><text x="727.7" y="399">10</text></g>
<text class="ttl" x="684.3" y="410.8" font-size="9" text-anchor="middle" textLength="52" lengthAdjust="spacingAndGlyphs">PC1 (6.2%)</text>
<ellipse cx="682" cy="318.7" rx="65.3" ry="64.7" fill="none" stroke="#bbb" stroke-width="0.8" stroke-dasharray="3,2"/>
<ellipse cx="680.8" cy="316.7" rx="62.5" ry="66" fill="none" stroke="#4a78b5" stroke-width="1"/>
<ellipse cx="684" cy="320" rx="69" ry="64" fill="none" stroke="#e0474c" stroke-width="1"/>
<g transform="translate(567.7,207.7) scale(0.3275,0.3446)">
<g fill="#3a66ad"><use href="#p1"/><use href="#p2"/><use href="#p3"/><use href="#p6"/><use href="#p7"/><use href="#p8"/><use href="#p12"/><use href="#p13"/><use href="#p14"/><use href="#p18"/><use href="#p24"/><use href="#p25"/><use href="#p27"/><use href="#p30"/><use href="#p31"/><use href="#p33"/><use href="#p37"/><use href="#p38"/><use href="#p40"/><use href="#p41"/><use href="#p43"/><use href="#p44"/><use href="#p45"/><use href="#p46"/><use href="#p48"/><use href="#p51"/><use href="#p52"/><use href="#p53"/><use href="#p54"/><use href="#p55"/><use href="#p58"/><use href="#p66"/><use href="#p67"/></g>
<g fill="#e3413a"><use href="#p4"/><use href="#p5"/><use href="#p9"/><use href="#p10"/><use href="#p11"/><use href="#p15"/><use href="#p16"/><use href="#p17"/><use href="#p19"/><use href="#p20"/><use href="#p21"/><use href="#p22"/><use href="#p23"/><use href="#p26"/><use href="#p28"/><use href="#p29"/><use href="#p32"/><use href="#p34"/><use href="#p35"/><use href="#p36"/><use href="#p39"/><use href="#p42"/><use href="#p47"/><use href="#p49"/><use href="#p50"/><use href="#p56"/><use href="#p57"/><use href="#p59"/><use href="#p60"/><use href="#p61"/><use href="#p62"/><use href="#p63"/><use href="#p64"/><use href="#p65"/></g>
</g>
<circle cx="652.7" cy="223.3" r="4.3" fill="#3a66ad" stroke="#111" stroke-width="1"/><text class="lg" x="662" y="227.5">Edge</text><text class="lg" x="662.3" y="239.3">Well</text>
<circle cx="705" cy="223.3" r="4.3" fill="#e3413a" stroke="#111" stroke-width="1"/><text class="lg" x="715" y="227.5">Inner</text><text class="lg" x="715" y="239.3">Well</text>
</g>
</svg>
</body></html>
